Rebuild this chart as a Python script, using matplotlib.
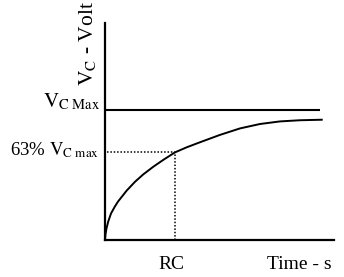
import numpy as np
import matplotlib
matplotlib.use("Agg")
import matplotlib.pyplot as plt

plt.rcParams['font.family'] = ['Liberation Serif', 'DejaVu Serif']
plt.rcParams['mathtext.fontset'] = 'stix'

# charging curve (time in RC units, voltage / Vc max)
t = [0.0, 0.007, 0.021, 0.046, 0.086, 0.139, 0.186, 0.31, 0.429, 0.547,
     0.69, 0.833, 1.0, 1.167, 1.347, 1.643, 1.929, 2.214, 2.5, 2.786, 3.096]
vc = [0.0, 0.039, 0.085, 0.139, 0.201, 0.253, 0.293, 0.378, 0.446, 0.503,
      0.562, 0.615, 0.673, 0.712, 0.749, 0.808, 0.858, 0.892, 0.912, 0.921, 0.925]
vmax = 1.0
vmax_end = 3.07
rc = 1.0
v_rc = 0.673

fig = plt.figure(figsize=(3.44, 2.77), dpi=100)
ax = fig.add_axes([105 / 344, 37.5 / 277, 229 / 344, 216.5 / 277])
ax.set_xlim(0, 3.271)
ax.set_ylim(0, 1.672)
for s in ['top', 'right']:
    ax.spines[s].set_visible(False)
for s in ['left', 'bottom']:
    ax.spines[s].set_linewidth(1.6)
ax.set_xticks([])
ax.set_yticks([])

ax.plot(t, vc, color='black', lw=1.4, solid_joinstyle='round', clip_on=False)
ax.plot([0, vmax_end], [vmax, vmax], color='black', lw=1.5, solid_capstyle='butt')
ax.plot([0.03, rc], [v_rc, v_rc], color='black', lw=1.1, ls=(0, (1, 1.2)))
ax.plot([rc, rc], [0, v_rc], color='black', lw=1.1, ls=(0, (1, 1.2)))

ax.text(-0.07, 1.06, r'$\mathrm{V}_{\mathrm{C\ Max}}$', fontsize=15,
        ha='right', va='center', clip_on=False)
ax.text(-0.08, 0.69, r'63% $\mathrm{V}_{\mathrm{C\ max}}$', fontsize=13.5,
        ha='right', va='center', clip_on=False)
ax.text(-0.25, 1.51, r'$\mathrm{V}_{\mathrm{C}}$ - Volt', fontsize=15.5,
        rotation=90, ha='center', va='center', clip_on=False)
ax.text(0.95, -0.19, 'RC', fontsize=14, ha='center', va='center', clip_on=False)
ax.text(2.78, -0.19, 'Time - s', fontsize=14, ha='center', va='center', clip_on=False)

fig.savefig('out.png', dpi=100)
